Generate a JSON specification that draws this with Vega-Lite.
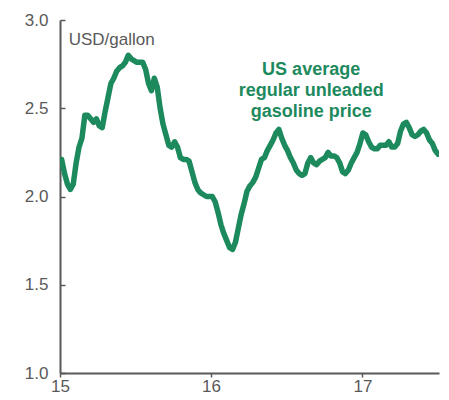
{
  "$schema": "https://vega.github.io/schema/vega-lite/v6.json",
  "width": 379,
  "height": 353,
  "autosize": {"type": "none"},
  "padding": {"left": 60, "top": 20, "right": 10, "bottom": 27},
  "background": "white",
  "config": {"view": {"stroke": null}, "font": "Liberation Sans"},
  "datasets": {
    "price": [
      {"date": "2015-01-05", "price": 2.21}, {"date": "2015-01-12", "price": 2.13}, {"date": "2015-01-19", "price": 2.07}, {"date": "2015-01-26", "price": 2.04},
      {"date": "2015-02-02", "price": 2.07}, {"date": "2015-02-09", "price": 2.19}, {"date": "2015-02-16", "price": 2.28}, {"date": "2015-02-23", "price": 2.33},
      {"date": "2015-03-02", "price": 2.46}, {"date": "2015-03-09", "price": 2.46}, {"date": "2015-03-16", "price": 2.44}, {"date": "2015-03-23", "price": 2.42},
      {"date": "2015-03-30", "price": 2.44}, {"date": "2015-04-06", "price": 2.40}, {"date": "2015-04-13", "price": 2.39}, {"date": "2015-04-20", "price": 2.48},
      {"date": "2015-04-27", "price": 2.56}, {"date": "2015-05-04", "price": 2.64}, {"date": "2015-05-11", "price": 2.67}, {"date": "2015-05-18", "price": 2.71},
      {"date": "2015-05-25", "price": 2.73}, {"date": "2015-06-01", "price": 2.74}, {"date": "2015-06-08", "price": 2.76}, {"date": "2015-06-15", "price": 2.80},
      {"date": "2015-06-22", "price": 2.78}, {"date": "2015-06-29", "price": 2.77}, {"date": "2015-07-06", "price": 2.76}, {"date": "2015-07-13", "price": 2.76},
      {"date": "2015-07-20", "price": 2.76}, {"date": "2015-07-27", "price": 2.72}, {"date": "2015-08-03", "price": 2.64}, {"date": "2015-08-10", "price": 2.60},
      {"date": "2015-08-17", "price": 2.67}, {"date": "2015-08-24", "price": 2.62}, {"date": "2015-08-31", "price": 2.50}, {"date": "2015-09-07", "price": 2.41},
      {"date": "2015-09-14", "price": 2.35}, {"date": "2015-09-21", "price": 2.29}, {"date": "2015-09-28", "price": 2.28}, {"date": "2015-10-05", "price": 2.31},
      {"date": "2015-10-12", "price": 2.28}, {"date": "2015-10-19", "price": 2.22}, {"date": "2015-10-26", "price": 2.21}, {"date": "2015-11-02", "price": 2.21},
      {"date": "2015-11-09", "price": 2.20}, {"date": "2015-11-16", "price": 2.14}, {"date": "2015-11-23", "price": 2.08}, {"date": "2015-11-30", "price": 2.04},
      {"date": "2015-12-07", "price": 2.02}, {"date": "2015-12-14", "price": 2.01}, {"date": "2015-12-21", "price": 2.00}, {"date": "2015-12-28", "price": 2.00},
      {"date": "2016-01-04", "price": 2.00}, {"date": "2016-01-11", "price": 1.97}, {"date": "2016-01-18", "price": 1.91}, {"date": "2016-01-25", "price": 1.84},
      {"date": "2016-02-01", "price": 1.79}, {"date": "2016-02-08", "price": 1.75}, {"date": "2016-02-15", "price": 1.71}, {"date": "2016-02-22", "price": 1.70},
      {"date": "2016-02-29", "price": 1.74}, {"date": "2016-03-07", "price": 1.82}, {"date": "2016-03-14", "price": 1.90}, {"date": "2016-03-21", "price": 1.96},
      {"date": "2016-03-28", "price": 2.03}, {"date": "2016-04-04", "price": 2.06}, {"date": "2016-04-11", "price": 2.08}, {"date": "2016-04-18", "price": 2.11},
      {"date": "2016-04-25", "price": 2.16}, {"date": "2016-05-02", "price": 2.21}, {"date": "2016-05-09", "price": 2.22}, {"date": "2016-05-16", "price": 2.26},
      {"date": "2016-05-23", "price": 2.29}, {"date": "2016-05-30", "price": 2.32}, {"date": "2016-06-06", "price": 2.36}, {"date": "2016-06-13", "price": 2.38},
      {"date": "2016-06-20", "price": 2.33}, {"date": "2016-06-27", "price": 2.29}, {"date": "2016-07-04", "price": 2.26}, {"date": "2016-07-11", "price": 2.22},
      {"date": "2016-07-18", "price": 2.19}, {"date": "2016-07-25", "price": 2.15}, {"date": "2016-08-01", "price": 2.13}, {"date": "2016-08-08", "price": 2.12},
      {"date": "2016-08-15", "price": 2.13}, {"date": "2016-08-22", "price": 2.19}, {"date": "2016-08-29", "price": 2.22}, {"date": "2016-09-05", "price": 2.19},
      {"date": "2016-09-12", "price": 2.18}, {"date": "2016-09-19", "price": 2.20}, {"date": "2016-09-26", "price": 2.21}, {"date": "2016-10-03", "price": 2.22},
      {"date": "2016-10-10", "price": 2.25}, {"date": "2016-10-17", "price": 2.23}, {"date": "2016-10-24", "price": 2.23}, {"date": "2016-10-31", "price": 2.22},
      {"date": "2016-11-07", "price": 2.19}, {"date": "2016-11-14", "price": 2.14}, {"date": "2016-11-21", "price": 2.13}, {"date": "2016-11-28", "price": 2.15},
      {"date": "2016-12-05", "price": 2.19}, {"date": "2016-12-12", "price": 2.22}, {"date": "2016-12-19", "price": 2.25}, {"date": "2016-12-26", "price": 2.30},
      {"date": "2017-01-02", "price": 2.36}, {"date": "2017-01-09", "price": 2.35}, {"date": "2017-01-16", "price": 2.31}, {"date": "2017-01-23", "price": 2.28},
      {"date": "2017-01-30", "price": 2.27}, {"date": "2017-02-06", "price": 2.27}, {"date": "2017-02-13", "price": 2.29}, {"date": "2017-02-20", "price": 2.29},
      {"date": "2017-02-27", "price": 2.29}, {"date": "2017-03-06", "price": 2.31}, {"date": "2017-03-13", "price": 2.28}, {"date": "2017-03-20", "price": 2.28},
      {"date": "2017-03-27", "price": 2.30}, {"date": "2017-04-03", "price": 2.37}, {"date": "2017-04-10", "price": 2.41}, {"date": "2017-04-17", "price": 2.42},
      {"date": "2017-04-24", "price": 2.39}, {"date": "2017-05-01", "price": 2.35}, {"date": "2017-05-08", "price": 2.34}, {"date": "2017-05-15", "price": 2.35},
      {"date": "2017-05-22", "price": 2.37}, {"date": "2017-05-29", "price": 2.38}, {"date": "2017-06-05", "price": 2.36}, {"date": "2017-06-12", "price": 2.32},
      {"date": "2017-06-19", "price": 2.30}, {"date": "2017-06-26", "price": 2.26}, {"date": "2017-07-03", "price": 2.24}
    ],
    "notes": [
      {"date": "2015-01-22", "price": 2.887, "label": "USD/gallon", "kind": "unit"},
      {"date": "2016-08-30", "price": 2.688, "label": ["US average", "regular unleaded", "gasoline price"], "kind": "series"}
    ]
  },
  "layer": [
    {
      "data": {"name": "price"},
      "mark": {"type": "line", "color": "#1d8a5e", "strokeWidth": 5.5, "strokeJoin": "round", "strokeCap": "round", "clip": true},
      "encoding": {
        "x": {
          "field": "date", "type": "temporal",
          "scale": {"domain": ["2015-01-01", "2017-07-05"]},
          "axis": {
            "title": null, "format": "%y", "values": ["2015-01-01", "2016-01-01", "2017-01-01"],
            "grid": false, "domainColor": "#595959", "domainWidth": 2,
            "tickColor": "#595959", "tickWidth": 1.5, "tickSize": 4,
            "labelColor": "#595959", "labelFontSize": 17, "labelPadding": 1, "labelFlush": false
          }
        },
        "y": {
          "field": "price", "type": "quantitative",
          "scale": {"domain": [1, 3], "nice": false, "zero": false},
          "axis": {
            "title": null, "format": ".1f", "values": [1, 1.5, 2, 2.5, 3],
            "grid": false, "domainColor": "#595959", "domainWidth": 2,
            "tickColor": "#595959", "tickWidth": 1.5, "tickSize": -5,
            "labelColor": "#595959", "labelFontSize": 17, "labelPadding": 17
          }
        }
      }
    },
    {
      "data": {"name": "notes"},
      "transform": [{"filter": "datum.kind == 'unit'"}],
      "mark": {"type": "text", "align": "left", "baseline": "middle", "fontSize": 17, "color": "#595959"},
      "encoding": {
        "x": {"field": "date", "type": "temporal"},
        "y": {"field": "price", "type": "quantitative"},
        "text": {"field": "label"}
      }
    },
    {
      "data": {"name": "notes"},
      "transform": [{"filter": "datum.kind == 'series'"}],
      "mark": {"type": "text", "align": "center", "baseline": "alphabetic", "fontSize": 18, "fontWeight": "bold", "lineHeight": 21, "color": "#1d8a5e"},
      "encoding": {
        "x": {"field": "date", "type": "temporal"},
        "y": {"field": "price", "type": "quantitative"},
        "text": {"field": "label"}
      }
    }
  ]
}
